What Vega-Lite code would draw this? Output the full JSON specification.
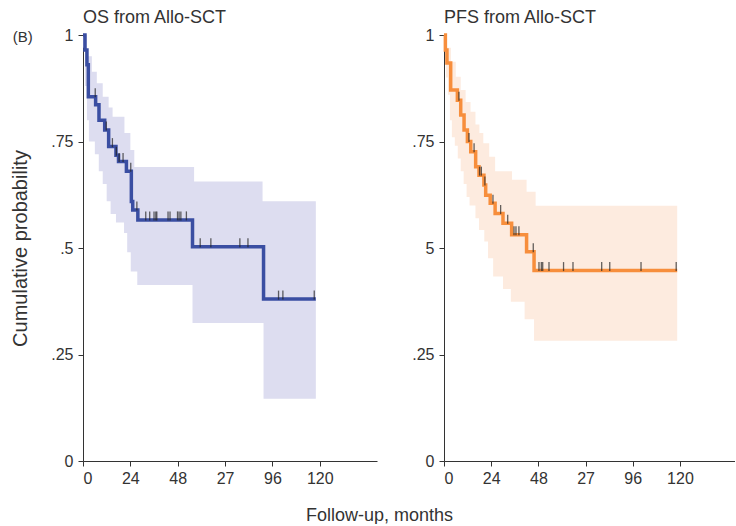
{
  "$schema": "https://vega.github.io/schema/vega-lite/v6.json",
  "padding": {"left": 10, "top": 9, "right": 0, "bottom": 0},
  "background": "white",
  "config": {
    "view": {"stroke": null},
    "font": "Liberation Sans",
    "axis": {"grid": false, "domainColor": "#333", "tickColor": "#333", "tickSize": 5, "labelColor": "#333", "labelFontSize": 16, "titleFontSize": 18, "titleFontWeight": "normal", "titleColor": "#333", "labelFont": "Liberation Sans", "titleFont": "Liberation Sans"},
    "title": {"font": "Liberation Sans", "fontWeight": "normal", "color": "#333"}
  },
  "title": {"text": "(B)", "anchor": "start", "frame": "bounds", "fontSize": 15, "dy": 36, "dx": 2, "offset": 0},
  "spacing": 67,
  "bounds": "flush",
  "datasets": {
    "os_curve": [
      {"m": 0, "s": 1}, {"m": 1, "s": 0.965}, {"m": 2, "s": 0.93}, {"m": 2.7, "s": 0.855}, {"m": 6.4, "s": 0.836},
      {"m": 8.1, "s": 0.8}, {"m": 11, "s": 0.777}, {"m": 13, "s": 0.738}, {"m": 16.7, "s": 0.718}, {"m": 18, "s": 0.703},
      {"m": 22, "s": 0.68}, {"m": 24.5, "s": 0.609}, {"m": 25.2, "s": 0.589}, {"m": 27.8, "s": 0.566}, {"m": 55.5, "s": 0.503},
      {"m": 91.5, "s": 0.38}, {"m": 118, "s": 0.38}
    ],
    "os_band": [
      {"m": 0, "lo": 0.97, "hi": 1}, {"m": 1, "lo": 0.88, "hi": 1}, {"m": 2, "lo": 0.8, "hi": 0.95}, {"m": 3, "lo": 0.75, "hi": 0.95},
      {"m": 4.5, "lo": 0.75, "hi": 0.914}, {"m": 6, "lo": 0.72, "hi": 0.914}, {"m": 7, "lo": 0.72, "hi": 0.887}, {"m": 8, "lo": 0.68, "hi": 0.887},
      {"m": 10, "lo": 0.65, "hi": 0.855}, {"m": 12, "lo": 0.61, "hi": 0.855}, {"m": 13, "lo": 0.61, "hi": 0.83}, {"m": 14, "lo": 0.58, "hi": 0.83},
      {"m": 15, "lo": 0.58, "hi": 0.808}, {"m": 16.7, "lo": 0.56, "hi": 0.808}, {"m": 20.8, "lo": 0.535, "hi": 0.808}, {"m": 21, "lo": 0.535, "hi": 0.77},
      {"m": 22.4, "lo": 0.49, "hi": 0.77}, {"m": 24, "lo": 0.49, "hi": 0.73}, {"m": 24.2, "lo": 0.445, "hi": 0.73}, {"m": 26, "lo": 0.445, "hi": 0.69},
      {"m": 27.5, "lo": 0.413, "hi": 0.69}, {"m": 55.5, "lo": 0.324, "hi": 0.69}, {"m": 56.3, "lo": 0.324, "hi": 0.656}, {"m": 91, "lo": 0.324, "hi": 0.61},
      {"m": 91.5, "lo": 0.146, "hi": 0.61}, {"m": 118, "lo": 0.146, "hi": 0.61}
    ],
    "os_cens": [
      {"m": 6.2, "s": 0.855}, {"m": 11.8, "s": 0.777}, {"m": 14.9, "s": 0.738}, {"m": 16.9, "s": 0.718}, {"m": 18.3, "s": 0.703},
      {"m": 20.3, "s": 0.703}, {"m": 24.2, "s": 0.68}, {"m": 27.3, "s": 0.589}, {"m": 31.8, "s": 0.566}, {"m": 33.8, "s": 0.566},
      {"m": 36, "s": 0.566}, {"m": 36.9, "s": 0.566}, {"m": 37.4, "s": 0.566}, {"m": 43.1, "s": 0.566}, {"m": 44.1, "s": 0.566},
      {"m": 47.9, "s": 0.566}, {"m": 48.7, "s": 0.566}, {"m": 49.6, "s": 0.566}, {"m": 52.4, "s": 0.566}, {"m": 59.4, "s": 0.503},
      {"m": 64.8, "s": 0.503}, {"m": 79.5, "s": 0.503}, {"m": 83.6, "s": 0.503}, {"m": 99.1, "s": 0.38}, {"m": 101.3, "s": 0.38},
      {"m": 117.2, "s": 0.38}
    ],
    "pfs_curve": [
      {"m": 0, "s": 1}, {"m": 0.7, "s": 0.965}, {"m": 1.5, "s": 0.934}, {"m": 3.4, "s": 0.871}, {"m": 6.8, "s": 0.847},
      {"m": 8.5, "s": 0.812}, {"m": 10.2, "s": 0.777}, {"m": 11.9, "s": 0.75}, {"m": 13.6, "s": 0.726}, {"m": 16.1, "s": 0.691},
      {"m": 17.8, "s": 0.671}, {"m": 20.3, "s": 0.648}, {"m": 21.2, "s": 0.624}, {"m": 23.5, "s": 0.605}, {"m": 26, "s": 0.581},
      {"m": 30, "s": 0.558}, {"m": 34.4, "s": 0.531}, {"m": 42, "s": 0.491}, {"m": 45.8, "s": 0.447}, {"m": 118.6, "s": 0.447}
    ],
    "pfs_band": [
      {"m": 0, "lo": 0.97, "hi": 1}, {"m": 1, "lo": 0.9, "hi": 1}, {"m": 1.5, "lo": 0.9, "hi": 0.97}, {"m": 2, "lo": 0.86, "hi": 0.97},
      {"m": 3, "lo": 0.8, "hi": 0.97}, {"m": 3.5, "lo": 0.8, "hi": 0.937}, {"m": 4, "lo": 0.76, "hi": 0.937}, {"m": 5.5, "lo": 0.74, "hi": 0.937},
      {"m": 6, "lo": 0.74, "hi": 0.902}, {"m": 7, "lo": 0.71, "hi": 0.902}, {"m": 8.5, "lo": 0.68, "hi": 0.871}, {"m": 10, "lo": 0.65, "hi": 0.871},
      {"m": 11, "lo": 0.65, "hi": 0.843}, {"m": 11.5, "lo": 0.62, "hi": 0.843}, {"m": 13, "lo": 0.6, "hi": 0.843}, {"m": 13.5, "lo": 0.6, "hi": 0.82},
      {"m": 16, "lo": 0.57, "hi": 0.79}, {"m": 17.8, "lo": 0.542, "hi": 0.79}, {"m": 18, "lo": 0.542, "hi": 0.77}, {"m": 20, "lo": 0.542, "hi": 0.746},
      {"m": 20.5, "lo": 0.515, "hi": 0.746}, {"m": 22.4, "lo": 0.476, "hi": 0.746}, {"m": 23, "lo": 0.476, "hi": 0.714}, {"m": 25, "lo": 0.433, "hi": 0.714},
      {"m": 26, "lo": 0.433, "hi": 0.68}, {"m": 30, "lo": 0.404, "hi": 0.68}, {"m": 34, "lo": 0.374, "hi": 0.68}, {"m": 34.6, "lo": 0.374, "hi": 0.66},
      {"m": 41, "lo": 0.333, "hi": 0.66}, {"m": 42, "lo": 0.333, "hi": 0.632}, {"m": 45.8, "lo": 0.282, "hi": 0.632}, {"m": 46.6, "lo": 0.282, "hi": 0.599},
      {"m": 118.6, "lo": 0.282, "hi": 0.599}
    ],
    "pfs_cens": [
      {"m": 7.6, "s": 0.847}, {"m": 12.7, "s": 0.75}, {"m": 15.3, "s": 0.726}, {"m": 18.1, "s": 0.671}, {"m": 19, "s": 0.671},
      {"m": 20.8, "s": 0.648}, {"m": 24.9, "s": 0.605}, {"m": 28.8, "s": 0.581}, {"m": 32.4, "s": 0.558}, {"m": 35.6, "s": 0.531},
      {"m": 36.6, "s": 0.531}, {"m": 38.1, "s": 0.531}, {"m": 45.4, "s": 0.491}, {"m": 48.3, "s": 0.447}, {"m": 49.5, "s": 0.447},
      {"m": 50.2, "s": 0.447}, {"m": 53.4, "s": 0.447}, {"m": 60.8, "s": 0.447}, {"m": 65.6, "s": 0.447}, {"m": 80.2, "s": 0.447},
      {"m": 84.3, "s": 0.447}, {"m": 100.2, "s": 0.447}, {"m": 118.1, "s": 0.447}
    ]
  },
  "hconcat": [
    {
      "width": 294,
      "height": 426,
      "title": {"text": "OS from Allo-SCT", "anchor": "start", "frame": "group", "fontSize": 18, "offset": 0},
      "layer": [
        {
          "data": {"name": "os_band"},
          "mark": {"type": "area", "interpolate": "step-after", "color": "#DDDDF0", "opacity": 1},
          "encoding": {
            "x": {"field": "m", "type": "quantitative", "scale": {"domain": [0, 149], "nice": false},
              "axis": {"values": [0, 24, 48, 72, 96, 120], "labelExpr": "datum.value == 72 ? '27' : datum.label", "title": "Follow-up, months", "titleX": 296, "titleY": 59, "titleBaseline": "alphabetic", "titleAlign": "center", "labelPadding": 4}},
            "y": {"field": "lo", "type": "quantitative", "scale": {"domain": [0, 1], "nice": false},
              "axis": {"values": [0, 0.25, 0.5, 0.75, 1], "labelExpr": "datum.value == 1 ? '1' : datum.value == 0 ? '0' : datum.value == 0.75 ? '.75' : datum.value == 0.5 ? '.5' : '.25'", "title": "Cumulative probability", "titleFontSize": 20, "titlePadding": 20, "labelPadding": 5}},
            "y2": {"field": "hi"}
          }
        },
        {
          "data": {"name": "os_curve"},
          "mark": {"type": "line", "interpolate": "step-after", "color": "#3A4EA2", "strokeWidth": 3.5},
          "encoding": {"x": {"field": "m", "type": "quantitative"}, "y": {"field": "s", "type": "quantitative"}}
        },
        {
          "data": {"name": "os_cens"},
          "mark": {"type": "tick", "orient": "vertical", "color": "#222", "size": 9, "thickness": 1.3, "yOffset": -4},
          "encoding": {"x": {"field": "m", "type": "quantitative"}, "y": {"field": "s", "type": "quantitative"}}
        }
      ]
    },
    {
      "width": 291,
      "height": 426,
      "title": {"text": "PFS from Allo-SCT", "anchor": "start", "frame": "group", "fontSize": 18, "offset": 0},
      "layer": [
        {
          "data": {"name": "pfs_band"},
          "mark": {"type": "area", "interpolate": "step-after", "color": "#FDEBDF", "opacity": 1},
          "encoding": {
            "x": {"field": "m", "type": "quantitative", "scale": {"domain": [0, 148], "nice": false},
              "axis": {"values": [0, 24, 48, 72, 96, 120], "labelExpr": "datum.value == 72 ? '27' : datum.label", "title": null, "labelPadding": 4}},
            "y": {"field": "lo", "type": "quantitative", "scale": {"domain": [0, 1], "nice": false},
              "axis": {"values": [0, 0.25, 0.5, 0.75, 1], "labelExpr": "datum.value == 1 ? '1' : datum.value == 0 ? '0' : datum.value == 0.75 ? '.75' : datum.value == 0.5 ? '5' : '.25'", "title": null, "labelPadding": 5}},
            "y2": {"field": "hi"}
          }
        },
        {
          "data": {"name": "pfs_curve"},
          "mark": {"type": "line", "interpolate": "step-after", "color": "#F78E3C", "strokeWidth": 3.5},
          "encoding": {"x": {"field": "m", "type": "quantitative"}, "y": {"field": "s", "type": "quantitative"}}
        },
        {
          "data": {"name": "pfs_cens"},
          "mark": {"type": "tick", "orient": "vertical", "color": "#222", "size": 9, "thickness": 1.3, "yOffset": -4},
          "encoding": {"x": {"field": "m", "type": "quantitative"}, "y": {"field": "s", "type": "quantitative"}}
        }
      ]
    }
  ]
}
